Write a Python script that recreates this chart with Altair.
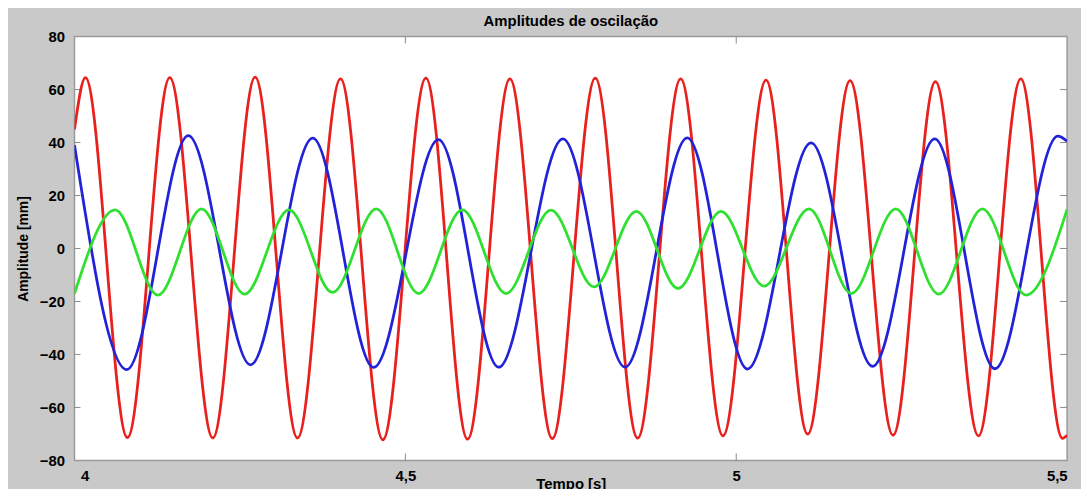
import altair as alt
import pandas as pd

# Extrema (time [s], amplitude [mm]), plus start/end values
red_t = [4.000, 4.0165, 4.080, 4.144, 4.209, 4.273, 4.337, 4.402, 4.466, 4.531, 4.594, 4.658,
         4.722, 4.787, 4.851, 4.916, 4.980, 5.045, 5.108, 5.172, 5.237, 5.301, 5.366, 5.430,
         5.493, 5.500]
red_v = [45.0, 64.5, -71.4, 64.5, -71.5, 64.7, -71.5, 64.0, -72.2, 64.3, -72.0, 64.0,
         -71.8, 64.3, -71.6, 64.0, -70.7, 63.6, -70.1, 63.4, -70.5, 63.0, -70.7, 64.0,
         -71.7, -70.5]

blue_t = [4.000, 4.079, 4.172, 4.266, 4.360, 4.452, 4.550, 4.641, 4.738, 4.832, 4.926,
          5.017, 5.113, 5.206, 5.300, 5.391, 5.486, 5.500]
blue_v = [39.0, -45.7, 42.6, -43.9, 41.7, -44.9, 41.1, -44.8, 41.4, -44.8, 41.8,
          -45.5, 39.9, -44.5, 41.4, -45.4, 42.4, 40.5]

green_t = [4.000, 4.0615, 4.126, 4.192, 4.257, 4.324, 4.390, 4.456, 4.520, 4.586, 4.652,
           4.720, 4.785, 4.849, 4.912, 4.977, 5.042, 5.110, 5.174, 5.241, 5.306, 5.372,
           5.438, 5.500]
green_v = [-17.0, 14.6, -17.6, 15.0, -17.2, 14.6, -16.6, 15.0, -17.0, 14.6, -17.0,
           14.5, -14.5, 14.0, -15.1, 14.0, -14.2, 15.0, -17.0, 15.0, -17.2, 15.0,
           -17.6, 14.8]

x_ticks = [4.0, 4.5, 5.0, 5.5]
y_ticks = [-80, -60, -40, -20, 0, 20, 40, 60, 80]

rows = []
for name, ts, vs in [("vermelho", red_t, red_v), ("azul", blue_t, blue_v), ("verde", green_t, green_v)]:
    for i, (t, v) in enumerate(zip(ts, vs)):
        rows.append({"serie": name, "t": t, "a": v, "ordem": i})
df = pd.DataFrame(rows)

W, H = 1000, 427
FONT = "Liberation Sans"

xscale = alt.Scale(domain=[4, 5.5], nice=False, zero=False)
yscale = alt.Scale(domain=[-80, 80], nice=False)

lines = alt.Chart(df).mark_line(
    interpolate="monotone", strokeWidth=2.8, clip=True
).encode(
    x=alt.X("t:Q", scale=xscale,
            axis=alt.Axis(values=x_ticks, labelExpr="replace(format(datum.value, '.1~f'), '.', ',')",
                          title="Tempo [s]", tickSize=0, domain=False, grid=False,
                          labelPadding=8, titleY=16, titleBaseline="top",
                          labelOffset={"condition": {"test": "datum.value <= 4", "value": 6}, "value": 0})),
    y=alt.Y("a:Q", scale=yscale,
            axis=alt.Axis(values=y_ticks, title="Amplitude [mm]", tickSize=0, domain=False,
                          grid=False, labelPadding=10, titleX=-51, titleBaseline="middle",
                          titleFontSize=14)),
    color=alt.Color("serie:N",
                    scale=alt.Scale(domain=["vermelho", "azul", "verde"],
                                    range=["#e8201e", "#2222d8", "#30e030"]),
                    legend=None),
    order="ordem:Q",
)

ytick_df = pd.DataFrame({"v": y_ticks[1:-1]})
xtick_df = pd.DataFrame({"t": x_ticks[1:-1]})

ytl = alt.Chart(ytick_df).mark_rule(color="#8a8a8a", strokeWidth=1).encode(
    y=alt.Y("v:Q", scale=yscale), x=alt.value(0), x2=alt.value(6))
ytr = alt.Chart(ytick_df).mark_rule(color="#8a8a8a", strokeWidth=1).encode(
    y=alt.Y("v:Q", scale=yscale), x=alt.value(W - 7), x2=alt.value(W))
xtb = alt.Chart(xtick_df).mark_rule(color="#8a8a8a", strokeWidth=1).encode(
    x=alt.X("t:Q", scale=xscale), y=alt.value(H - 7), y2=alt.value(H))
xtt = alt.Chart(xtick_df).mark_rule(color="#8a8a8a", strokeWidth=1).encode(
    x=alt.X("t:Q", scale=xscale), y=alt.value(0), y2=alt.value(7))

chart = alt.layer(ytl, ytr, xtb, xtt, lines).properties(
    width=W, height=H,
    title=alt.TitleParams("Amplitudes de oscilação", font=FONT, fontSize=15,
                          fontWeight="bold", color="black", offset=1, frame="group",
                          anchor="middle"),
    background="#c9c9c9",
    padding={"left": 67, "top": 27, "right": 14, "bottom": 27},
    autosize=alt.AutoSizeParams(type="none"),
).configure_view(
    fill="white", stroke="#9a9a9a", strokeWidth=1.5
).configure_axis(
    labelFont=FONT, labelFontSize=15, labelFontWeight="bold", labelColor="black",
    titleFont=FONT, titleFontSize=15, titleFontWeight="bold", titleColor="black",
)

chart.save("out.html", embed_options={"renderer": "svg", "actions": False})
